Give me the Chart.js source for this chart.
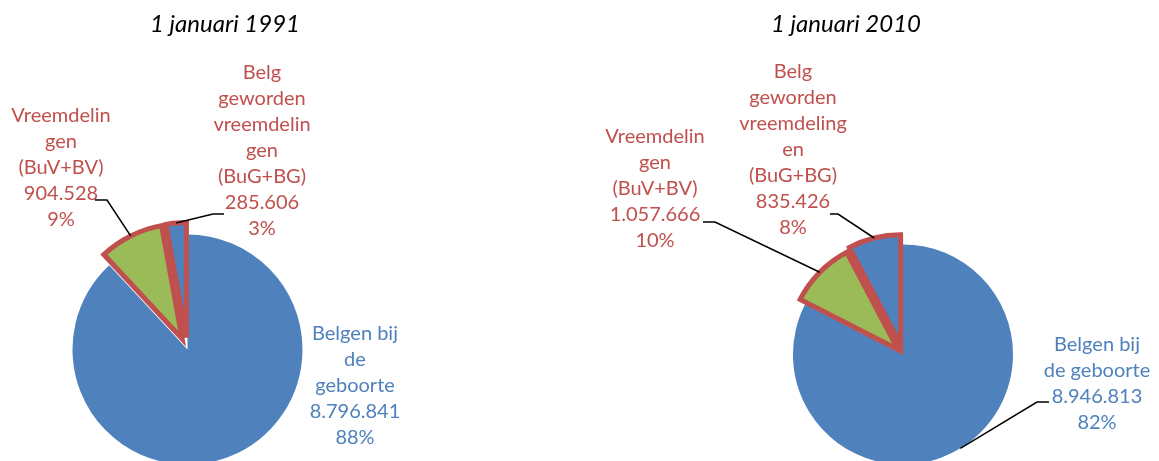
<!DOCTYPE html>
<html lang="nl">
<head>
<meta charset="UTF-8">
<title>Bevolking naar nationaliteit</title>
<script src="https://cdn.jsdelivr.net/npm/chart.js@4.4.1/dist/chart.umd.min.js"></script>
<style>
  body { margin:0; background:#fff; }
  #board { position:relative; width:1159px; height:461px; overflow:hidden; }
  #board canvas { position:absolute; top:0; }
  #c1991 { left:0; }
  #c2010 { left:580px; }
</style>
</head>
<body>
<div id="board">
  <canvas id="c1991" width="580" height="461"></canvas>
  <canvas id="c2010" width="579" height="461"></canvas>
</div>
<script>
const categories = ['Belgen bij de geboorte', 'Vreemdelingen (BuV+BV)', 'Belg geworden vreemdelingen (BuG+BG)'];
const values1991 = [8796841, 904528, 285606];
const values2010 = [8946813, 1057666, 835426];
const pct1991 = [88, 9, 3];
const pct2010 = [82, 10, 8];
// wrapped label text, as it breaks in each chart
const lines1991 = [['Belgen bij', 'de', 'geboorte'], ['Vreemdelin', 'gen', '(BuV+BV)'], ['Belg', 'geworden', 'vreemdelin', 'gen', '(BuG+BG)']];
const lines2010 = [['Belgen bij', 'de geboorte'], ['Vreemdelin', 'gen', '(BuV+BV)'], ['Belg', 'geworden', 'vreemdeling', 'en', '(BuG+BG)']];

const BLUE = '#4F81BD', GREEN = '#9BBB59', RED = '#C0504D';

const fmt = v => String(v).replace(/\B(?=(\d{3})+(?!\d))/g, '.');

const sliceLabels = {
  id: 'sliceLabels',
  afterDatasetUpdate(chart, args, opts) {
    // pull slices out along their mid angle
    const push = opts.explode || [];
    args.meta.data.forEach((arc, i) => {
      const d = push[i] || 0;
      if (!d) return;
      const mid = (arc.startAngle + arc.endAngle) / 2;
      arc.x += Math.cos(mid) * d;
      arc.y += Math.sin(mid) * d;
    });
  },
  afterDraw(chart, args, opts) {
    const ctx = chart.ctx;
    const meta = chart.getDatasetMeta(0);
    const data = chart.data.datasets[0].data;
    ctx.save();
    ctx.textAlign = 'center';
    ctx.textBaseline = 'middle';
    ctx.font = 'italic 24px Lato';
    ctx.fillStyle = '#000';
    ctx.fillText(opts.title, opts.titleX, opts.titleY);

    ctx.font = '20px Lato';
    opts.boxes.forEach((b, i) => {
      const arc = meta.data[i];
      const text = opts.lines[i].concat([fmt(data[i]), opts.pct[i] + '%']);
      ctx.fillStyle = b.color;
      text.forEach((t, k) => ctx.fillText(t, b.x, b.y + k * 26));
      if (b.leader) {
        const mid = (arc.startAngle + arc.endAngle) / 2;
        ctx.beginPath();
        ctx.moveTo(b.leader[0][0], b.leader[0][1]);
        ctx.lineTo(b.leader[1][0], b.leader[1][1]);
        ctx.lineTo(arc.x + Math.cos(mid) * arc.outerRadius, arc.y + Math.sin(mid) * arc.outerRadius);
        ctx.strokeStyle = '#000';
        ctx.lineWidth = 1.5;
        ctx.stroke();
      }
    });
    ctx.restore();
  }
};

function makePie(id, values, radius, padding, labelOpts) {
  return new Chart(document.getElementById(id), {
    type: 'pie',
    data: {
      labels: categories,
      datasets: [{
        data: values,
        backgroundColor: [BLUE, GREEN, BLUE],
        borderColor: ['#fff', RED, RED],
        borderWidth: [0, 5, 5],
        borderJoinStyle: 'miter',
        clip: false
      }]
    },
    options: {
      responsive: false,
      animation: false,
      events: [],
      radius: radius,
      layout: { padding: padding },
      plugins: {
        legend: { display: false },
        tooltip: { enabled: false },
        sliceLabels: labelOpts
      }
    },
    plugins: [sliceLabels]
  });
}

makePie('c1991', values1991, 115, { left: 0, right: 205, top: 238, bottom: 0 }, {
  title: '1 januari 1991', titleX: 225, titleY: 24,
  explode: [0, 12, 12],
  lines: lines1991, pct: pct1991,
  boxes: [
    { x: 355, y: 334, color: BLUE, leader: null },
    { x: 61, y: 116, color: RED, leader: [[95, 200], [107, 200]] },
    { x: 262, y: 73, color: RED, leader: [[224, 214], [213, 214]] }
  ]
});

makePie('c2010', values2010, 110, { left: 67, right: 0, top: 248, bottom: 0 }, {
  title: '1 januari 2010', titleX: 266, titleY: 24,
  explode: [0, 7, 10],
  lines: lines2010, pct: pct2010,
  boxes: [
    { x: 517, y: 345, color: BLUE, leader: [[469, 402], [457, 402]] },
    { x: 75, y: 137, color: RED, leader: [[123, 222], [135, 222]] },
    { x: 213, y: 72, color: RED, leader: [[250, 214], [258, 214]] }
  ]
});
</script>
</body>
</html>
